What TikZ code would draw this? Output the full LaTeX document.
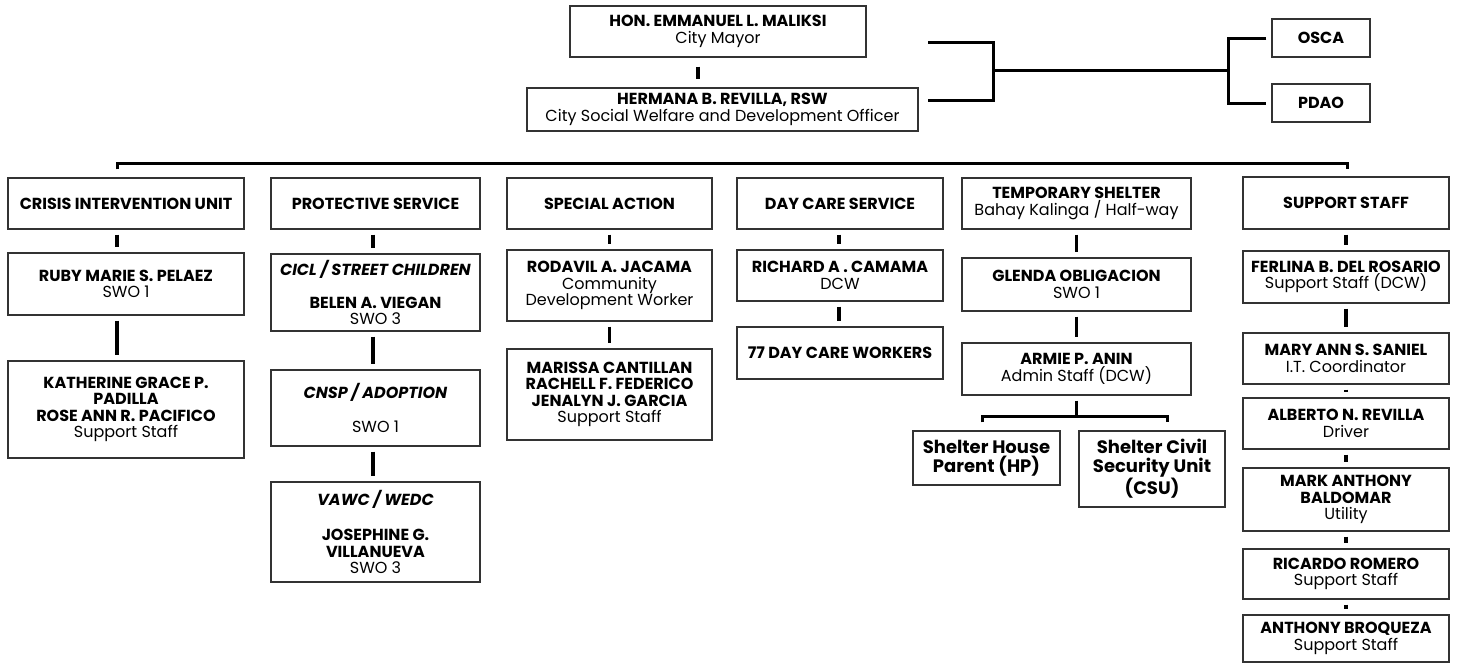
\documentclass[tikz,border=0pt]{standalone}
\usepackage{fontspec}
\setmainfont{Poppins}
\usepackage{tikz}
\usetikzlibrary{positioning, calc}
\definecolor{boxline}{HTML}{333333}
\colorlet{linkline}{black}

\tikzset{
  unit/.style={draw=boxline, line width=1.3pt, align=center, inner sep=0pt,
    font=\fontsize{16}{16.5}\selectfont},
  shelter/.style={unit, font=\fontsize{18}{18.5}\selectfont\bfseries},
  link/.style={line width=3.2pt, draw=linkline, shorten <=5pt, shorten >=5pt},
  bus/.style={line width=3pt, draw=linkline},
}

\begin{document}
\begin{tikzpicture}[x=1pt, y=-1pt]
  \useasboundingbox (0,0) rectangle (1459,664);

  % top office
  \node[unit, minimum width=296pt, minimum height=51pt] (mayor) at (718,31.5) {\textbf{HON. EMMANUEL L. MALIKSI}\\City Mayor};
  \node[unit, minimum width=391pt, minimum height=43pt] (cswdo) at (722.5,109.5) {\textbf{HERMANA B. REVILLA, RSW}\\City Social Welfare and Development Officer};
  \draw[link, shorten <=9pt, shorten >=8pt] ([xshift=-20pt]mayor.south) -- ([xshift=-24.5pt]cswdo.north);

  \node[unit, minimum width=98pt, minimum height=38pt] (osca) at (1321,38) {\textbf{OSCA}};
  \node[unit, minimum width=98pt, minimum height=38pt] (pdao) at (1321,103) {\textbf{PDAO}};

  \coordinate (mayorend) at (928,42);
  \coordinate (cswdoend) at (928,100);
  \coordinate (joinL) at (993,70);
  \coordinate (joinR) at (1228,70);
  \draw[bus] (mayorend) -| (joinL) |- (cswdoend);
  \draw[bus] (joinL) -- (joinR);
  \draw[bus] ([xshift=-5pt]osca.west) -| (joinR) |- ([xshift=-5pt]pdao.west);

  % units
  \node[unit, minimum width=236pt, minimum height=51pt] (ciu) at (126,203.5) {\textbf{CRISIS INTERVENTION UNIT}};
  \node[unit, minimum width=209pt, minimum height=51pt] (ps) at (375.5,203.5) {\textbf{PROTECTIVE SERVICE}};
  \node[unit, minimum width=205pt, minimum height=51pt] (sa) at (609.5,203.5) {\textbf{SPECIAL ACTION}};
  \node[unit, minimum width=206pt, minimum height=51pt] (dcs) at (840,203.5) {\textbf{DAY CARE SERVICE}};
  \node[unit, minimum width=229pt, minimum height=51pt] (ts) at (1076.5,203.5) {\textbf{TEMPORARY SHELTER}\\Bahay Kalinga / Half-way};
  \node[unit, minimum width=206pt, minimum height=52pt] (ss) at (1346,203) {\textbf{SUPPORT STAFF}};

  \coordinate (busL) at (117,163);
  \coordinate (busR) at (1347,163);
  \draw[bus] ([xshift=-9pt,yshift=8pt]ciu.north) -- (busL) -- (busR) -- ([xshift=1pt,yshift=7pt]ss.north);

  % crisis intervention
  \node[unit, minimum width=236pt, minimum height=62pt] (ruby) at (126,284) {\textbf{RUBY MARIE S. PELAEZ}\\SWO 1};
  \node[unit, minimum width=236pt, minimum height=97pt] (katherine) at (126,409.5) {\textbf{KATHERINE GRACE P.}\\\textbf{PADILLA}\\\textbf{ROSE ANN R. PACIFICO}\\Support Staff};
  \draw[link] ([xshift=-9pt]ciu.south) -- ([xshift=-9pt]ruby.north);
  \draw[link] ([xshift=-9pt]ruby.south) -- ([xshift=-9pt]katherine.north);

  % protective service
  \node[unit, minimum width=209pt, minimum height=77pt] (cicl) at (375.5,292.5) {\textbf{\textit{CICL / STREET CHILDREN}}\\[16pt]\textbf{BELEN A. VIEGAN}\\SWO 3};
  \node[unit, minimum width=209pt, minimum height=76pt] (cnsp) at (375.5,408) {\textbf{\textit{CNSP / ADOPTION}}\\[17pt]SWO 1};
  \node[unit, minimum width=209pt, minimum height=100pt] (vawc) at (375.5,532) {\textbf{\textit{VAWC / WEDC}}\\[19pt]\textbf{JOSEPHINE G.}\\\textbf{VILLANUEVA}\\SWO 3};
  \draw[link] ([xshift=-2.5pt]ps.south) -- ([xshift=-2.5pt]cicl.north);
  \draw[link] ([xshift=-2.5pt]cicl.south) -- ([xshift=-2.5pt]cnsp.north);
  \draw[link] ([xshift=-2.5pt]cnsp.south) -- ([xshift=-2.5pt]vawc.north);

  % special action
  \node[unit, minimum width=205pt, minimum height=71pt] (rodavil) at (609.5,285.5) {\textbf{RODAVIL A. JACAMA}\\Community\\Development Worker};
  \node[unit, minimum width=205pt, minimum height=91pt] (marissa) at (609.5,394.5) {\textbf{MARISSA CANTILLAN}\\\textbf{RACHELL F. FEDERICO}\\\textbf{JENALYN J. GARCIA}\\Support Staff};
  \draw[link] (sa) -- (rodavil);
  \draw[link] (rodavil) -- (marissa);

  % day care
  \node[unit, minimum width=206pt, minimum height=51pt] (richard) at (840,275.5) {\textbf{RICHARD A . CAMAMA}\\DCW};
  \node[unit, minimum width=206pt, minimum height=52pt] (dcw77) at (840,353) {\textbf{77 DAY CARE WORKERS}};
  \draw[link] ([xshift=-1pt]dcs.south) -- ([xshift=-1pt]richard.north);
  \draw[link] ([xshift=-1pt]richard.south) -- ([xshift=-1pt]dcw77.north);

  % temporary shelter
  \node[unit, minimum width=229pt, minimum height=53pt] (glenda) at (1076.5,284.5) {\textbf{GLENDA OBLIGACION}\\SWO 1};
  \node[unit, minimum width=229pt, minimum height=52pt] (armie) at (1076.5,369) {\textbf{ARMIE P. ANIN}\\Admin Staff (DCW)};
  \draw[link] (ts) -- (glenda);
  \draw[link] (glenda) -- (armie);

  \node[shelter, minimum width=147pt, minimum height=54pt] (hp) at (986.5,458) {Shelter House\\Parent (HP)};
  \node[shelter, minimum width=146pt, minimum height=76pt] (csu) at (1152,469) {Shelter Civil\\Security Unit\\(CSU)};
  \coordinate (shfork) at (1076,416);
  \draw[bus] ([xshift=-0.5pt,yshift=-5pt]armie.south) -- (shfork);
  \draw[bus] ([xshift=-4.5pt,yshift=8pt]hp.north) |- (shfork) -| ([xshift=15pt,yshift=8pt]csu.north);

  % support staff
  \node[unit, minimum width=206pt, minimum height=52pt] (ferlina) at (1346,277) {\textbf{FERLINA B. DEL ROSARIO}\\Support Staff (DCW)};
  \node[unit, minimum width=206pt, minimum height=51pt] (maryann) at (1346,358.5) {\textbf{MARY ANN S. SANIEL}\\I.T. Coordinator};
  \node[unit, minimum width=206pt, minimum height=51pt] (alberto) at (1346,423.5) {\textbf{ALBERTO N. REVILLA}\\Driver};
  \node[unit, minimum width=206pt, minimum height=63pt] (mark) at (1346,499.5) {\textbf{MARK ANTHONY}\\\textbf{BALDOMAR}\\Utility};
  \node[unit, minimum width=206pt, minimum height=50pt] (ricardo) at (1346,574) {\textbf{RICARDO ROMERO}\\Support Staff};
  \node[unit, minimum width=206pt, minimum height=47pt] (anthony) at (1346,638.5) {\textbf{ANTHONY BROQUEZA}\\Support Staff};
  \draw[link] (ss) -- (ferlina);
  \draw[link] (ferlina) -- (maryann);
  \draw[link] (maryann) -- (alberto);
  \draw[link] (alberto) -- (mark);
  \draw[link] (mark) -- (ricardo);
  \draw[link] (ricardo) -- (anthony);
\end{tikzpicture}
\end{document}
